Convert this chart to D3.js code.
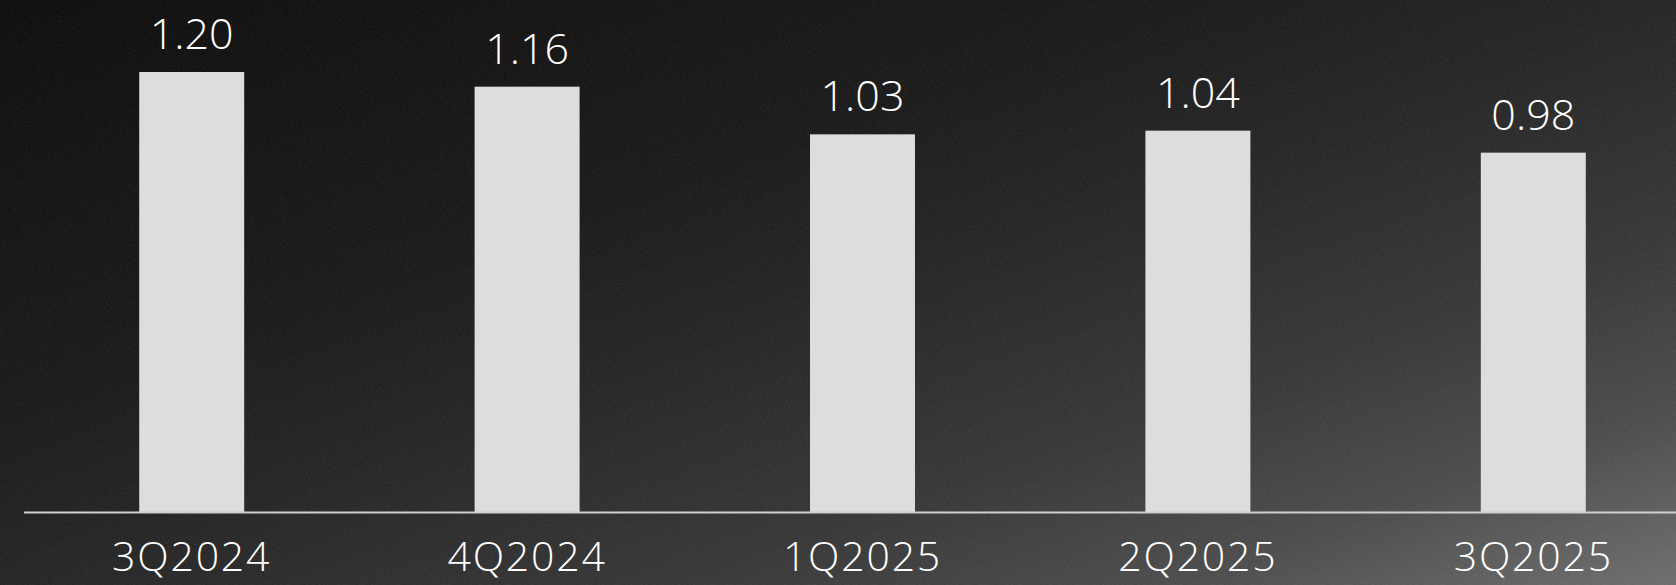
<!DOCTYPE html>
<html>
<head>
<meta charset="utf-8">
<script src="https://cdn.jsdelivr.net/npm/d3@7"></script>
<style>
  html, body { margin: 0; padding: 0; background: #111; overflow: hidden; }
  svg { display: block; }
  text { font-family: "Open Sans", "Lato", sans-serif; font-weight: 300; fill: #ffffff; }
</style>
</head>
<body>
<script>
const categories = ["3Q2024", "4Q2024", "1Q2025", "2Q2025", "3Q2025"];
const values = [1.20, 1.16, 1.03, 1.04, 0.98];
const valueLabels = ["1.20", "1.16", "1.03", "1.04", "0.98"];

const W = 1676, H = 585;
const svg = d3.select("body").append("svg").attr("width", W).attr("height", H);
const defs = svg.append("defs");

const grad = defs.append("linearGradient").attr("id", "bg")
  .attr("x1", 0).attr("y1", 0).attr("x2", 1).attr("y2", 1);
[[0, "#0e0e0e"], [0.35, "#1b1b1b"], [0.5, "#262626"], [0.7, "#383838"], [0.85, "#4d4d4d"], [1, "#6e6e6e"]]
  .forEach(([o, c]) => grad.append("stop").attr("offset", o).attr("stop-color", c));

const noise = defs.append("filter").attr("id", "noise").attr("x", 0).attr("y", 0).attr("width", "100%").attr("height", "100%");
noise.append("feTurbulence").attr("type", "fractalNoise").attr("baseFrequency", 0.7).attr("numOctaves", 2).attr("seed", 3).attr("result", "t");
noise.append("feColorMatrix").attr("type", "matrix")
  .attr("values", "0 0 0 0 1  0 0 0 0 1  0 0 0 0 1  0.7 0 0 0 -0.25");

svg.append("rect").attr("width", W).attr("height", H).attr("fill", "url(#bg)");
svg.append("rect").attr("width", W).attr("height", H).attr("filter", "url(#noise)").attr("opacity", 0.15);

const x = d3.scaleBand().domain(categories).range([24, 1701]).paddingInner(0.687).paddingOuter(0.3435);
const y = d3.scaleLinear().domain([0, 1.2]).range([512, 72]);

svg.append("g").selectAll("rect").data(values).join("rect")
  .attr("x", (d, i) => x(categories[i]))
  .attr("y", d => y(d))
  .attr("width", x.bandwidth())
  .attr("height", d => y(0) - y(d))
  .attr("fill", "#dddddd");

svg.append("line")
  .attr("x1", 24).attr("x2", W)
  .attr("y1", y(0) + 0.5).attr("y2", y(0) + 0.5)
  .attr("stroke", "#cfcfcf").attr("stroke-width", 2);

svg.append("g").selectAll("text").data(values).join("text")
  .attr("x", (d, i) => x(categories[i]) + x.bandwidth() / 2)
  .attr("y", d => y(d) - 23)
  .attr("text-anchor", "middle")
  .attr("font-size", 43)
  .text((d, i) => valueLabels[i]);

svg.append("g").selectAll("text").data(categories).join("text")
  .attr("x", d => x(d) + x.bandwidth() / 2)
  .attr("y", 571)
  .attr("text-anchor", "middle")
  .attr("font-size", 41)
  .attr("letter-spacing", 1.8)
  .text(d => d);
</script>
</body>
</html>
